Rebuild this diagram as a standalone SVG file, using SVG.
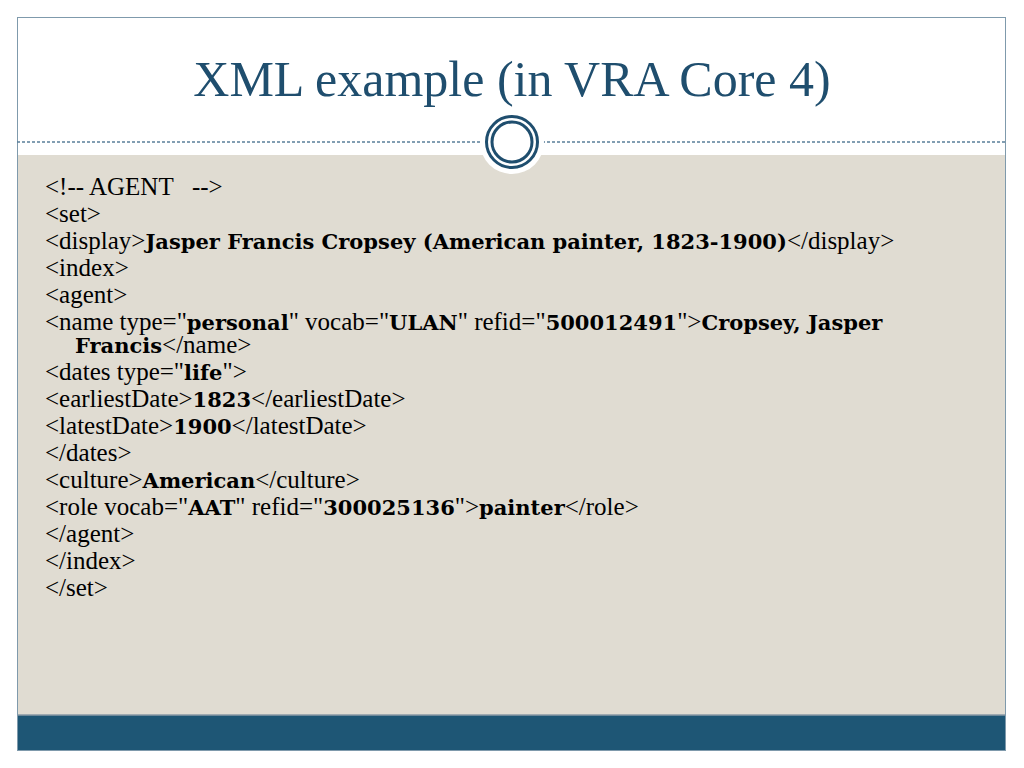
<svg xmlns="http://www.w3.org/2000/svg" width="1024" height="768" viewBox="0 0 1024 768">
<style>
text{font-family:"Liberation Serif","Times New Roman",serif;font-size:25px;fill:#000}
.b{font-family:"DejaVu Serif",Georgia,serif;font-weight:bold;font-size:21px}
.t{font-size:50px;fill:#1f4e6e}
</style>
<rect width="1024" height="768" fill="#fff"/>
<rect x="17.5" y="155" width="988" height="560" fill="#e0dcd2"/>
<rect x="17" y="715" width="989" height="36" fill="#1e5675"/>
<line x1="17" y1="715" x2="1006" y2="715" stroke="#8a9aa6" stroke-width="1.5"/>
<rect x="17.5" y="17.5" width="988" height="733" fill="none" stroke="#7f9aac" stroke-width="1"/>
<line x1="17" y1="142" x2="1006" y2="142" stroke="#5a7f99" stroke-width="1.5" stroke-dasharray="3,2"/>
<g id="ornament">
<circle cx="512" cy="142" r="32" fill="#fff"/>
<circle cx="512" cy="142" r="25.5" fill="none" stroke="#1f4e6e" stroke-width="3"/>
<circle cx="512" cy="142" r="20" fill="none" stroke="#1f4e6e" stroke-width="3"/>
</g>
<text class="t" x="512" y="96" text-anchor="middle">XML example (in VRA Core 4)</text>
<g id="body">
<text x="45" y="195" xml:space="preserve">&lt;!-- AGENT   --&gt;</text>
<text x="45" y="222">&lt;set&gt;</text>
<text x="45" y="249">&lt;display&gt;<tspan class="b">Jasper Francis Cropsey (American painter, 1823-1900)</tspan>&lt;/display&gt;</text>
<text x="45" y="276">&lt;index&gt;</text>
<text x="45" y="303">&lt;agent&gt;</text>
<text x="45" y="330">&lt;name type="<tspan class="b">personal</tspan>" vocab="<tspan class="b">ULAN</tspan>" refid="<tspan class="b">500012491</tspan>"&gt;<tspan class="b">Cropsey, Jasper</tspan></text>
<text x="75" y="353"><tspan class="b">Francis</tspan>&lt;/name&gt;</text>
<text x="45" y="380">&lt;dates type="<tspan class="b">life</tspan>"&gt;</text>
<text x="45" y="407">&lt;earliestDate&gt;<tspan class="b">1823</tspan>&lt;/earliestDate&gt;</text>
<text x="45" y="434">&lt;latestDate&gt;<tspan class="b">1900</tspan>&lt;/latestDate&gt;</text>
<text x="45" y="461">&lt;/dates&gt;</text>
<text x="45" y="488">&lt;culture&gt;<tspan class="b">American</tspan>&lt;/culture&gt;</text>
<text x="45" y="515">&lt;role vocab="<tspan class="b">AAT</tspan>" refid="<tspan class="b">300025136</tspan>"&gt;<tspan class="b">painter</tspan>&lt;/role&gt;</text>
<text x="45" y="542">&lt;/agent&gt;</text>
<text x="45" y="569">&lt;/index&gt;</text>
<text x="45" y="596">&lt;/set&gt;</text>
</g>
</svg>
